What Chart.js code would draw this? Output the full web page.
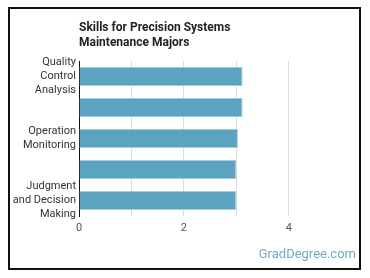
<!DOCTYPE html>
<html>
<head>
<meta charset="utf-8">
<script src="https://cdn.jsdelivr.net/npm/chart.js@4"></script>
<style>
  body { margin: 0; background: #fff; font-family: Roboto, sans-serif; }
  #wrap { position: relative; width: 370px; height: 278px; }
  #frame { position: absolute; left: 8px; top: 7px; width: 349px; height: 259px; border: 2px solid #111; }
  #title { position: absolute; left: 79px; top: 20px; font-size: 12px; font-weight: bold; color: #222; line-height: 15px; }
  #mark { position: absolute; right: 14px; top: 246px; font-size: 13px; color: #72a9c7; }
  canvas { position: absolute; left: 0; top: 0; }
</style>
</head>
<body>
<div id="wrap">
  <div id="frame"></div>
  <canvas id="chart" width="370" height="278"></canvas>
  <div id="title">Skills for Precision Systems<br>Maintenance Majors</div>
  <div id="mark">GradDegree.com</div>
</div>
<script>
var skills = [['Quality', 'Control', 'Analysis'], '', ['Operation', 'Monitoring'], 'Speaking', ['Judgment', 'and Decision', 'Making']];
var scores = [3.12, 3.12, 3.03, 3.0, 3.0];
var gridValues = [0, 1, 2, 3, 4];
var tickLabels = { 0: '0', 2: '2', 4: '4' };

var ctx = document.getElementById('chart').getContext('2d');

new Chart(ctx, {
    type: 'bar',
    data: {
        labels: skills,
        datasets: [{
            data: scores,
            backgroundColor: '#5ca3c1',
            borderColor: '#a4cde0',
            borderWidth: 1,
            barPercentage: 0.62,
            categoryPercentage: 1
        }]
    },
    options: {
        indexAxis: 'y',
        responsive: false,
        animation: false,
        layout: { padding: { left: 0, right: 55, top: 61, bottom: 0 } },
        plugins: { legend: { display: false }, tooltip: { enabled: false } },
        scales: {
            x: {
                min: 0,
                max: 4.5,
                grid: { color: '#dcdcdc', drawTicks: false },
                border: { display: false },
                ticks: {
                    autoSkip: false,
                    maxRotation: 0,
                    padding: 6,
                    color: '#555',
                    font: { family: 'Roboto', size: 11 },
                    callback: function (v) { return tickLabels[v] || ''; }
                },
                afterBuildTicks: function (scale) {
                    scale.ticks = gridValues.map(v => ({ value: v }));
                },
                afterFit: function (scale) { scale.height = 62; }
            },
            y: {
                grid: { display: false, drawTicks: false },
                border: { display: true, color: '#111', width: 1 },
                ticks: {
                    padding: 3,
                    color: '#333',
                    font: { family: 'Roboto', size: 11, lineHeight: 1.27 }
                },
                afterFit: function (scale) { scale.width = 79; }
            }
        }
    }
});
</script>
</body>
</html>
